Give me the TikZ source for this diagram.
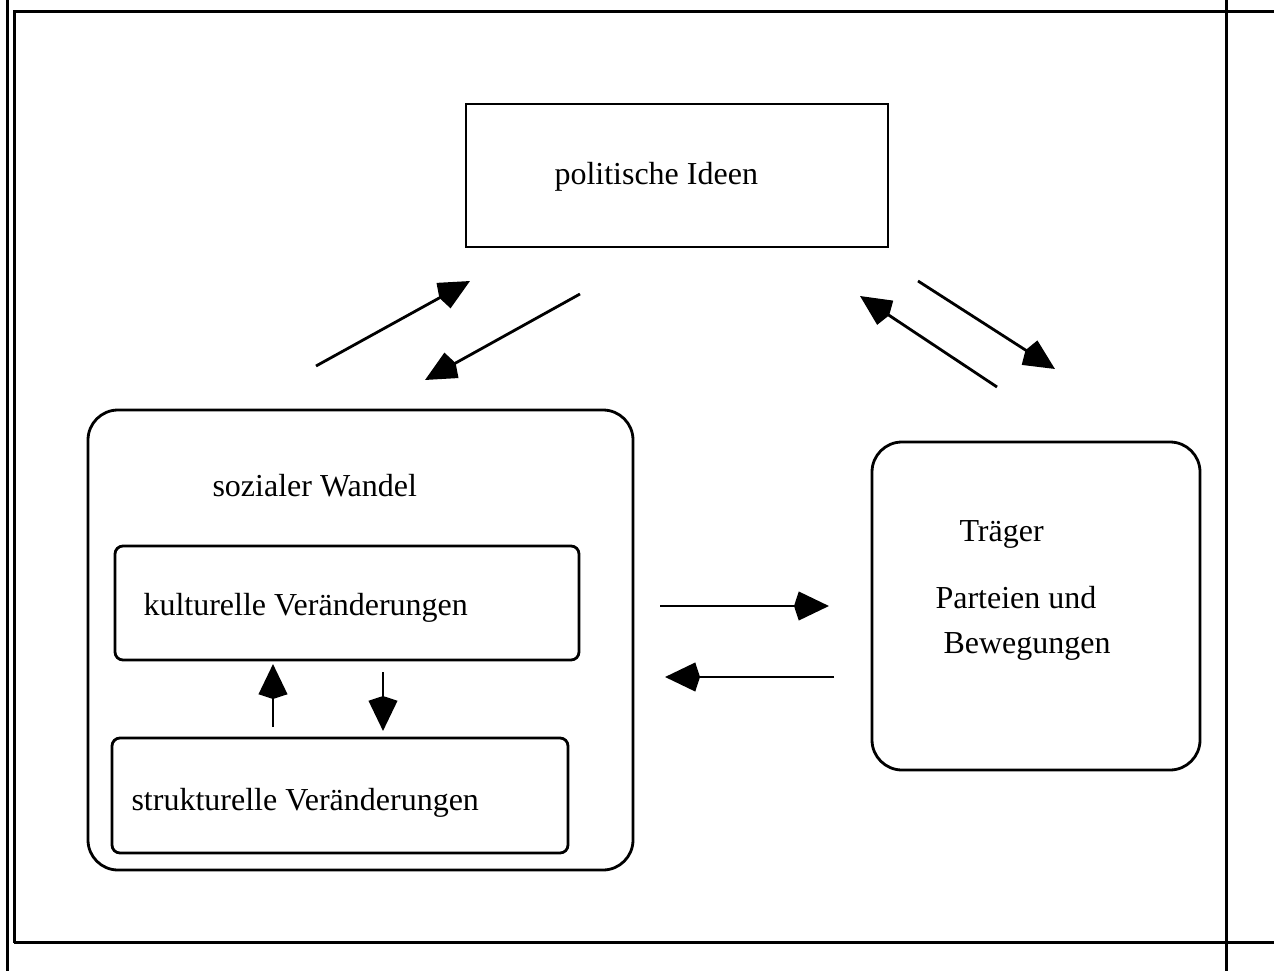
\documentclass[tikz,border=0pt]{standalone}
\usepackage{fontspec}
\setmainfont{Liberation Serif}
\usetikzlibrary{arrows.meta}
\begin{document}
\begin{tikzpicture}[x=1pt,y=-1pt,
  line width=3pt,
  box/.style={draw,line width=2.8pt,inner sep=0pt},
  lbl/.style={inner sep=0pt,anchor=west,font=\fontsize{32}{36}\selectfont},
  arr/.style={-{Stealth[length=30pt,width=28pt,inset=-5pt]},line width=2.8pt}]
\useasboundingbox (0,0) rectangle (1274,971);
% frame
\draw (7.5,0) -- (7.5,971);
\draw (1226.5,0) -- (1226.5,971);
\draw (14,942.5) -- (14,12) -- (1274,12);
\draw (14,942.5) -- (1274,942.5);
% boxes
\node[box,minimum width=422pt,minimum height=143pt] (ideen) at (677,175.5) {};
\node[box,rounded corners=30pt,minimum width=545pt,minimum height=460pt] (wandel) at (360.5,640) {};
\node[box,rounded corners=8pt,minimum width=464pt,minimum height=114pt] (kult) at (347,603) {};
\node[box,rounded corners=8pt,minimum width=456pt,minimum height=115pt] (strukt) at (340,795.5) {};
\node[box,rounded corners=30pt,minimum width=328pt,minimum height=328pt] (traeger) at (1036,606) {};
% labels
\node[lbl] (tideen) at (553,177) {politische Ideen};
\node[lbl] (twandel) at (211,486) {sozialer Wandel};
\node[lbl] (tkult) at (142,608) {kulturelle Veränderungen};
\node[lbl] (tstrukt) at (130,803) {strukturelle Veränderungen};
\node[lbl] (ttraeger) at (958,534) {Träger};
\node[lbl] (tpart) at (934,598) {Parteien und};
\node[lbl] (tbew) at (942,646) {Bewegungen};
% arrow endpoints
\coordinate (a1s) at (316,366); \coordinate (a1e) at (470,281);
\coordinate (a2s) at (580,294); \coordinate (a2e) at (425,380);
\coordinate (a3s) at (997,387); \coordinate (a3e) at (860,296);
\coordinate (a4s) at (918,281); \coordinate (a4e) at (1055,369);
\coordinate (a5s) at (660,606); \coordinate (a5e) at (829,606);
\coordinate (a6s) at (834,677); \coordinate (a6e) at (665,677);
\coordinate (a7s) at (273,727); \coordinate (a7e) at (273,664);
\coordinate (a8s) at (383,672); \coordinate (a8e) at (383,731);
\draw[arr] (a1s) -- (a1e);
\draw[arr] (a2s) -- (a2e);
\draw[arr] (a3s) -- (a3e);
\draw[arr] (a4s) -- (a4e);
\draw[arr] (a5s) -- (a5e);
\draw[arr] (a6s) -- (a6e);
\draw[arr] (a7s) -- (a7e);
\draw[arr] (a8s) -- (a8e);
\end{tikzpicture}
\end{document}
